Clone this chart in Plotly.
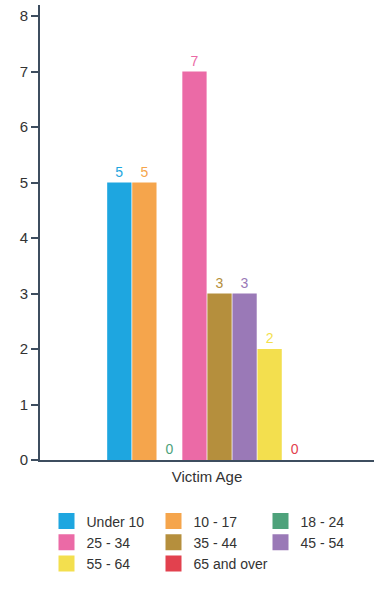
import plotly.graph_objects as go

# data
category = ["Victim Age"]
age_groups = ["Under 10", "10 - 17", "18 - 24", "25 - 34", "35 - 44", "45 - 54", "55 - 64", "65 and over"]
victims = [5, 5, 0, 7, 3, 3, 2, 0]
colors = ["#1ea6e0", "#f5a54c", "#4ea27b", "#eb6aa6", "#b58f3d", "#9a79b7", "#f3df4e", "#e2414e"]

axis_color = "#3d4d5f"
font = "Liberation Sans, Arial"

fig = go.Figure()
for name, val, col in zip(age_groups, victims, colors):
    fig.add_trace(go.Bar(
        x=category, y=[val], name=name, showlegend=False,
        marker=dict(color=col, line=dict(width=0)),
        text=[str(val)], textposition="outside", cliponaxis=False,
        textfont=dict(color=col, size=14, family=font),
    ))
    # legend entry with a bigger square swatch
    fig.add_trace(go.Scatter(
        x=[None], y=[None], name=name, mode="markers",
        marker=dict(symbol="square", size=16, color=col),
    ))

fig.update_layout(
    width=374, height=595,
    margin=dict(l=40, r=0, t=5, b=135),
    plot_bgcolor="white", paper_bgcolor="white",
    barmode="group", bargap=0.4, bargroupgap=0.03,
    font=dict(family=font, color="#333333"),
    showlegend=True,
    legend=dict(
        orientation="h", x=0.5, xanchor="center",
        y=-0.1, yanchor="top",
        font=dict(size=14, color="#333333"),
        entrywidth=62, itemsizing="trace",
        tracegroupgap=0,
    ),
)

fig.update_xaxes(
    showticklabels=False, ticks="", showgrid=False,
    showline=True, linecolor=axis_color, linewidth=2,
    title=dict(text="Victim Age", font=dict(size=15, color="#333333"), standoff=10),
)
fig.update_yaxes(
    range=[0, 8.2], dtick=1, showgrid=False, zeroline=False,
    showline=True, linecolor=axis_color, linewidth=2,
    ticks="outside", ticklen=7, tickwidth=2, tickcolor=axis_color,
    tickfont=dict(size=15, color="#333333", family=font),
)

fig.write_html("out.html", config=dict(displayModeBar=False),
               post_script="document.body.style.margin='0';document.body.style.overflow='hidden';")
